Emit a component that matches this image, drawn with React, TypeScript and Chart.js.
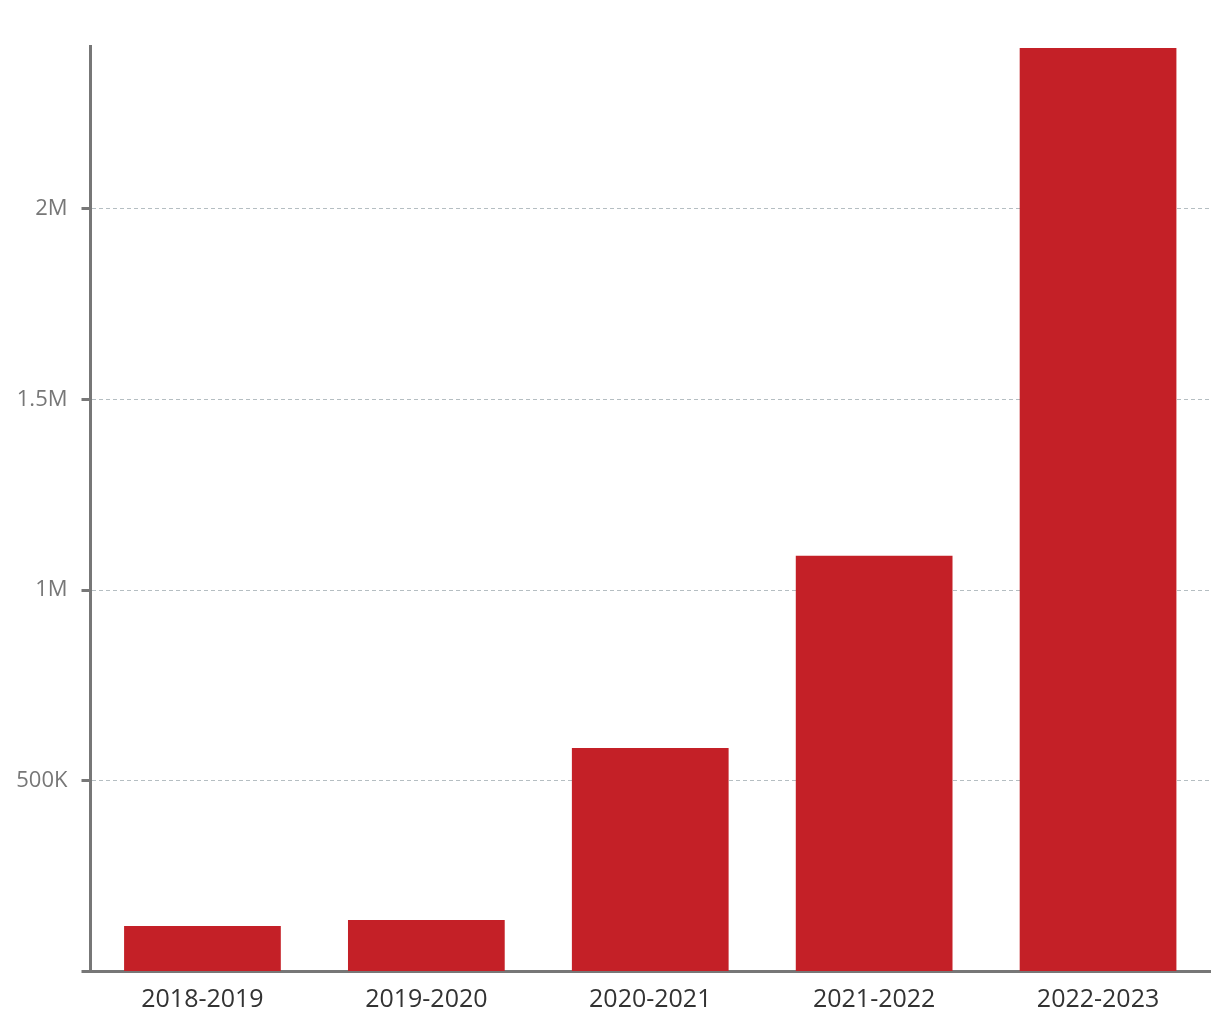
import React, { useEffect, useRef } from "react";
import { Chart, registerables } from "chart.js";

Chart.register(...registerables);

const categories = ["2018-2019", "2019-2020", "2020-2021", "2021-2022", "2022-2023"];
const values = [119000, 135000, 586000, 1090000, 2422000];
const yMax = 2427000;
const yTickValues = [0, 500000, 1000000, 1500000, 2000000];

function formatTick(v: number): string {
  if (v === 0) return "";
  if (v >= 1000000) return v / 1000000 + "M";
  return v / 1000 + "K";
}

export default function App() {
  const ref = useRef<HTMLCanvasElement | null>(null);

  useEffect(() => {
    if (!ref.current) return;
    const chart = new Chart(ref.current, {
      type: "bar",
      data: {
        labels: categories,
        datasets: [
          {
            data: values,
            backgroundColor: "#c42027",
            borderWidth: 0,
            barPercentage: 0.7,
            categoryPercentage: 1,
          },
        ],
      },
      options: {
        responsive: false,
        animation: false,
        layout: { padding: { top: 46, right: 10, left: 0, bottom: 0 } },
        plugins: { legend: { display: false }, tooltip: { enabled: false } },
        scales: {
          x: {
            z: 1,
            grid: { display: false, drawTicks: false },
            border: { display: true, color: "#777777", width: 3 },
            ticks: {
              color: "#333333",
              font: { family: "'Open Sans'", size: 25 },
              padding: 13,
              maxRotation: 0,
            },
            afterFit: (scale: any) => {
              scale.height = 48.5;
            },
          },
          y: {
            min: 0,
            max: yMax,
            grid: {
              color: "#b5bec2",
              lineWidth: 1,
              drawTicks: true,
              tickLength: 9,
              tickWidth: 3,
              tickColor: "#777777",
            },
            border: { display: true, color: "#777777", width: 3, dash: [4, 3] },
            ticks: {
              color: "#777777",
              font: { family: "'Open Sans'", size: 22 },
              padding: 14,
              callback: (v: any) => formatTick(Number(v)),
            },
            afterBuildTicks: (scale: any) => {
              scale.ticks = yTickValues.map((v) => ({ value: v }));
            },
            afterFit: (scale: any) => {
              scale.width = 90.5;
            },
          },
        },
      },
    });
    return () => chart.destroy();
  }, []);

  return (
    <div style={{ position: "absolute", left: 0, top: 0, width: 1220, height: 1020, background: "#fff" }}>
      <canvas ref={ref} width={1220} height={1020} style={{ display: "block" }} />
    </div>
  );
}
